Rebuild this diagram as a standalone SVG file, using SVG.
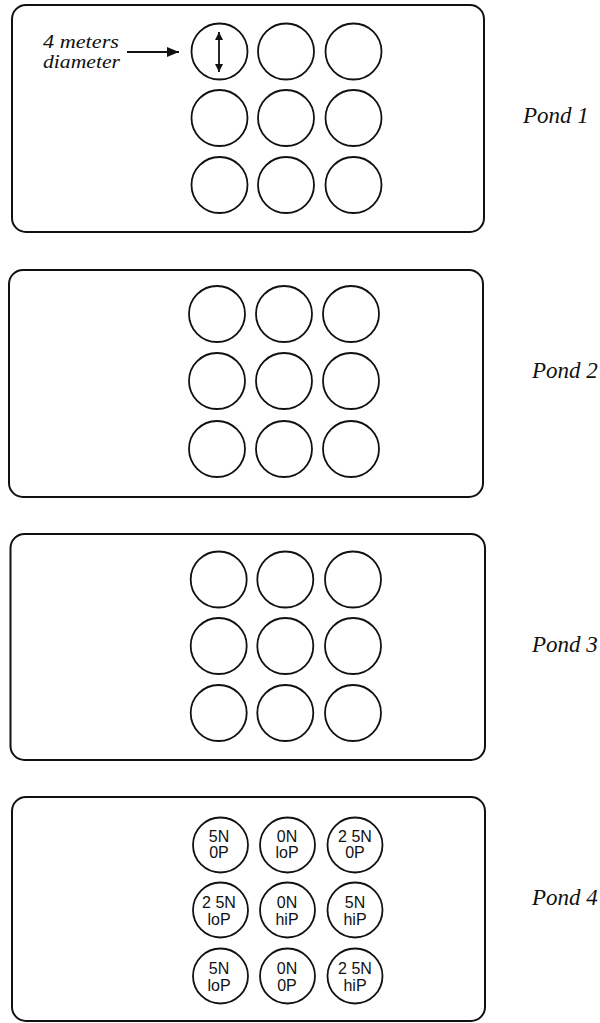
<svg xmlns="http://www.w3.org/2000/svg" width="600" height="1023" viewBox="0 0 600 1023">
<defs>
<style>
.pond{fill:none;stroke:#111;stroke-width:2}
.c{fill:#fff;stroke:#111;stroke-width:1.8}
.lbl{font-family:"Liberation Serif","Times New Roman",serif;font-style:italic;font-size:23px;fill:#111}
.note{font-family:"Liberation Serif","Times New Roman",serif;font-style:italic;font-size:18px;fill:#111}
.t{font-family:"Liberation Sans",Arial,sans-serif;font-size:16px;fill:#111;text-anchor:middle}
.ln{stroke:#111;stroke-width:1.8;fill:none}
</style>
<marker id="ah" viewBox="0 0 12 10" refX="12" refY="5" markerWidth="12" markerHeight="10" markerUnits="userSpaceOnUse" orient="auto-start-reverse">
<path d="M0,0 L12,5 L0,10 Z" fill="#111"/>
</marker>
<marker id="ah2" viewBox="0 0 8 8" refX="8" refY="4" markerWidth="8" markerHeight="8" markerUnits="userSpaceOnUse" orient="auto-start-reverse">
<path d="M0,0 L8,4 L0,8 Z" fill="#111"/>
</marker>
</defs>

<g id="pond1">
<rect class="pond" x="12" y="5" width="472" height="227" rx="14"/>
<circle class="c" cx="219.5" cy="51.5" r="28"/>
<circle class="c" cx="286" cy="51.5" r="28"/>
<circle class="c" cx="353.5" cy="51.5" r="28"/>
<circle class="c" cx="219.5" cy="118" r="28"/>
<circle class="c" cx="286" cy="118" r="28"/>
<circle class="c" cx="353.5" cy="118" r="28"/>
<circle class="c" cx="219.5" cy="185" r="28"/>
<circle class="c" cx="286" cy="185" r="28"/>
<circle class="c" cx="353.5" cy="185" r="28"/>
<text class="note" x="43" y="48" textLength="76" lengthAdjust="spacingAndGlyphs">4 meters</text>
<text class="note" x="43" y="68" textLength="77" lengthAdjust="spacingAndGlyphs">diameter</text>
<text class="lbl" x="523" y="123">Pond 1</text>
</g>

<g id="pond2">
<rect class="pond" x="9" y="270" width="474" height="227" rx="14"/>
<circle class="c" cx="217" cy="314" r="28"/>
<circle class="c" cx="284" cy="314" r="28"/>
<circle class="c" cx="351" cy="314" r="28"/>
<circle class="c" cx="217" cy="381" r="28"/>
<circle class="c" cx="284" cy="381" r="28"/>
<circle class="c" cx="351" cy="381" r="28"/>
<circle class="c" cx="217" cy="449" r="28"/>
<circle class="c" cx="284" cy="449" r="28"/>
<circle class="c" cx="351" cy="449" r="28"/>
<text class="lbl" x="532" y="378">Pond 2</text>
</g>

<g id="pond3">
<rect class="pond" x="10.5" y="534" width="474.5" height="226" rx="14"/>
<circle class="c" cx="218.7" cy="579.5" r="28"/>
<circle class="c" cx="285.3" cy="579.5" r="28"/>
<circle class="c" cx="353" cy="579.5" r="28"/>
<circle class="c" cx="218.7" cy="646" r="28"/>
<circle class="c" cx="285.3" cy="646" r="28"/>
<circle class="c" cx="353" cy="646" r="28"/>
<circle class="c" cx="218.7" cy="713" r="28"/>
<circle class="c" cx="285.3" cy="713" r="28"/>
<circle class="c" cx="353" cy="713" r="28"/>
<text class="lbl" x="532" y="652">Pond 3</text>
</g>

<g id="pond4">
<rect class="pond" x="12" y="797" width="473" height="224" rx="14"/>
<circle class="c" cx="220.5" cy="845" r="27.5"/>
<circle class="c" cx="287.5" cy="845" r="27.5"/>
<circle class="c" cx="355" cy="845" r="27.5"/>
<circle class="c" cx="220.5" cy="910" r="27.5"/>
<circle class="c" cx="287.5" cy="910" r="27.5"/>
<circle class="c" cx="355" cy="910" r="27.5"/>
<circle class="c" cx="220.5" cy="976" r="27.5"/>
<circle class="c" cx="287.5" cy="976" r="27.5"/>
<circle class="c" cx="355" cy="976" r="27.5"/>
<text class="t" x="219" y="842">5N</text><text class="t" x="219" y="858">0P</text>
<text class="t" x="287" y="842">0N</text><text class="t" x="287" y="858">loP</text>
<text class="t" x="355" y="842">2 5N</text><text class="t" x="355" y="858">0P</text>
<text class="t" x="219" y="908">2 5N</text><text class="t" x="219" y="925">loP</text>
<text class="t" x="287" y="908">0N</text><text class="t" x="287" y="925">hiP</text>
<text class="t" x="355" y="908">5N</text><text class="t" x="355" y="925">hiP</text>
<text class="t" x="219" y="974">5N</text><text class="t" x="219" y="991">loP</text>
<text class="t" x="287" y="974">0N</text><text class="t" x="287" y="991">0P</text>
<text class="t" x="355" y="974">2 5N</text><text class="t" x="355" y="991">hiP</text>
<text class="lbl" x="532" y="905">Pond 4</text>
</g>

<g id="connectors">
<line class="ln" x1="127" y1="52" x2="179" y2="52" marker-end="url(#ah)"/>
<line class="ln" x1="219" y1="32" x2="219" y2="72" stroke-width="1.4" marker-start="url(#ah2)" marker-end="url(#ah2)"/>
</g>
</svg>
